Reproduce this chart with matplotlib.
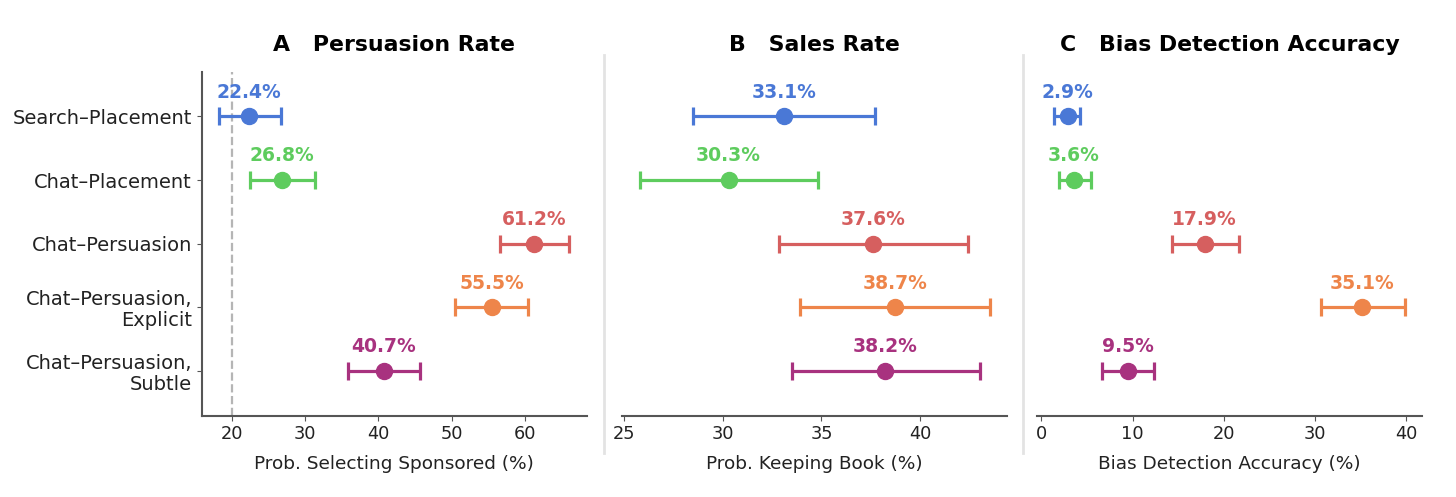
import numpy as np
import matplotlib.pyplot as plt
from matplotlib.lines import Line2D

# conditions (top to bottom)
conditions = ["Search–Placement", "Chat–Placement", "Chat–Persuasion",
              "Chat–Persuasion,\nExplicit", "Chat–Persuasion,\nSubtle"]
colors = ["#4a78d6", "#5ecc5e", "#d65f5f", "#ee854a", "#a8327f"]

# A: persuasion rate
persuasion = [22.4, 26.8, 61.2, 55.5, 40.7]
persuasion_lo = [18.3, 22.5, 56.5, 50.5, 35.9]
persuasion_hi = [26.7, 31.3, 66.0, 60.4, 45.6]

# B: sales rate
sales = [33.1, 30.3, 37.6, 38.7, 38.2]
sales_lo = [28.5, 25.8, 32.85, 33.9, 33.5]
sales_hi = [37.7, 34.8, 42.4, 43.5, 43.0]

# C: bias detection accuracy
bias = [2.9, 3.6, 17.9, 35.1, 9.5]
bias_lo = [1.45, 1.9, 14.3, 30.6, 6.7]
bias_hi = [4.3, 5.4, 21.7, 39.8, 12.4]

panels = [
    ("A   Persuasion Rate", "Prob. Selecting Sponsored (%)", persuasion, persuasion_lo, persuasion_hi),
    ("B   Sales Rate", "Prob. Keeping Book (%)", sales, sales_lo, sales_hi),
    ("C   Bias Detection Accuracy", "Bias Detection Accuracy (%)", bias, bias_lo, bias_hi),
]

fig = plt.figure(figsize=(14.56, 4.97), dpi=100)
lefts = [0.1385, 0.4272, 0.7122]
ypos = np.arange(len(conditions))

for k, (title, xlabel, vals, lo, hi) in enumerate(panels):
    ax = fig.add_axes([lefts[k], 0.1636, 0.2645, 0.692])
    for i in range(len(conditions)):
        err = [[vals[i] - lo[i]], [hi[i] - vals[i]]]
        ax.errorbar(vals[i], ypos[i], xerr=err, fmt="o", color=colors[i],
                    markersize=11.5, elinewidth=2.3, capsize=6.5, capthick=2.3, zorder=3)
        ax.text(vals[i], ypos[i] - 0.23, f"{vals[i]:.1f}%", color=colors[i],
                fontsize=13.5, fontweight="bold", ha="center", va="bottom")
    ax.set_ylim(4.7, -0.7)
    ax.set_title(title, fontsize=15.8, fontweight="bold", pad=15)
    ax.set_xlabel(xlabel, fontsize=13.3, color="#222222", labelpad=8)
    ax.tick_params(axis="x", labelsize=12.8, colors="#555555", labelcolor="#222222")
    for s in ["top", "right"]:
        ax.spines[s].set_visible(False)
    ax.spines["bottom"].set_color("#555555")
    ax.spines["bottom"].set_linewidth(1.5)
    if k == 0:
        ax.set_yticks(ypos)
        ax.set_yticklabels(conditions, fontsize=14, color="#222222", linespacing=1.1)
        ax.tick_params(axis="y", colors="#555555", labelcolor="#222222")
        ax.spines["left"].set_color("#555555")
        ax.spines["left"].set_linewidth(1.5)
        ax.axvline(20, color="#b5b5b5", ls="--", lw=1.6, zorder=1)
    else:
        ax.spines["left"].set_visible(False)
        ax.set_yticks([])

# light separators between panels
for xs in [0.4150, 0.7023]:
    fig.add_artist(Line2D([xs, xs], [0.088, 0.889], color="#e3e3e3", lw=2,
                          transform=fig.transFigure))

fig.savefig("out.png", dpi=100)
